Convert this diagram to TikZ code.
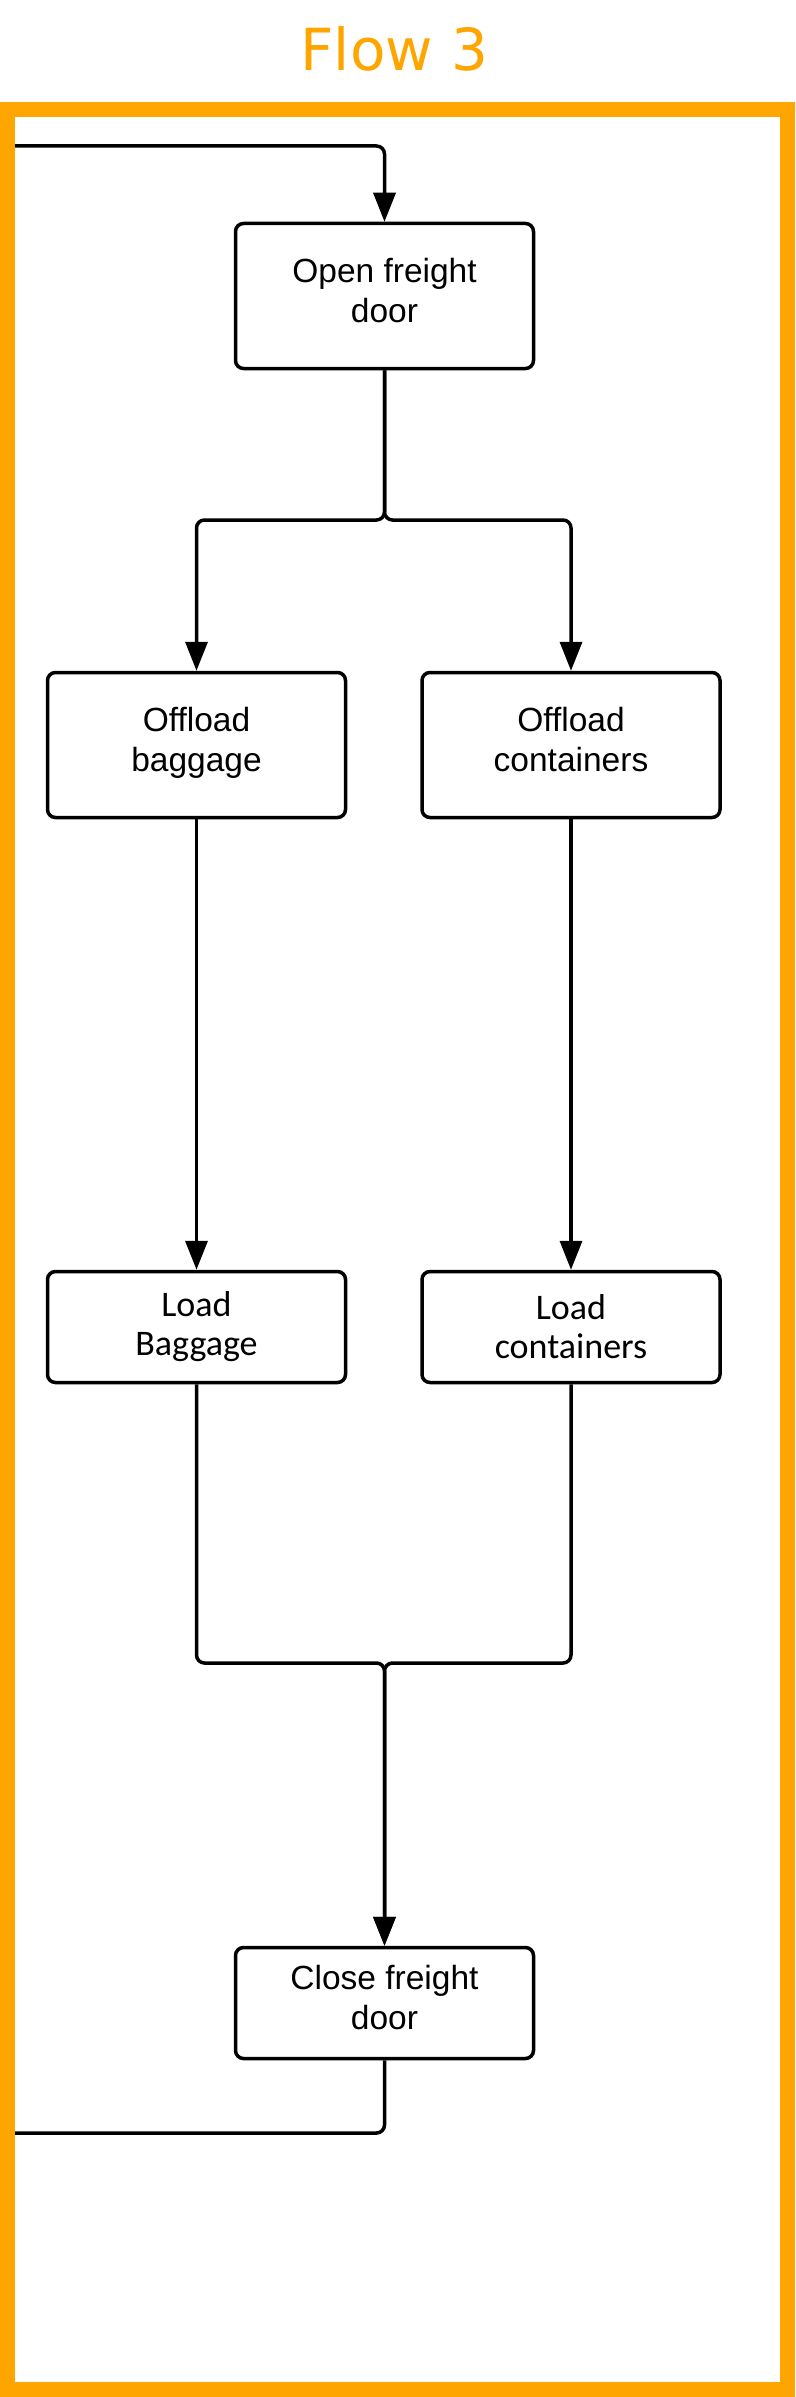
\documentclass[tikz,border=0pt]{standalone}
\usepackage{fontspec}
\setmainfont{Liberation Sans}
\newfontfamily\carlitofont{Carlito}
\newfontfamily\titlefamily{DejaVu Sans}
\usetikzlibrary{arrows.meta}
\definecolor{flowor}{RGB}{255,165,0}

\begin{document}
\begin{tikzpicture}[x=1pt,y=-1pt,
    boxbase/.style={draw,line width=3.5pt,rounded corners=8pt,fill=white,align=center,
      minimum width=298pt,minimum height=145pt,inner sep=0pt},
    task/.style={boxbase,font=\fontsize{33.5}{40}\selectfont,
      execute at end node={\rule[-12pt]{0pt}{12pt}}},
    lowtask/.style={task,minimum height=111pt},
    loadtask/.style={boxbase,minimum height=111pt,font=\carlitofont\fontsize{36}{39}\selectfont},
    flowline/.style={line width=3.5pt,rounded corners=8pt},
    flowarrow/.style={flowline,-{Triangle[length=29pt,width=22pt]}}]
                \useasboundingbox (0,0) rectangle (795,2397);
                
                % Drawing title
                \node [anchor=base,text=flowor,font=\titlefamily\fontsize{58}{70}\selectfont] (title) at (394.5,71) {Flow 3};%
                
                % Drawing boxes
                \node [task] (open) at (384.5,296) {Open freight\\door};%
                \node [task] (offb) at (196.5,745) {Offload\\baggage};%
                \node [task] (offc) at (571,745) {Offload\\containers};%
                \node [loadtask] (ldb) at (196.5,1327) {Load\\Baggage};%
                \node [loadtask] (ldc) at (571,1327) {Load\\containers};%
                \node [lowtask] (close) at (384.5,2003) {Close freight\\door};%
                
                % Marking turning points
                \coordinate (loopin) at (15,146);%
                \coordinate (split) at (384.5,520);%
                \coordinate (join) at (384.5,1663);%
                \coordinate (loopout) at (15,2133);%
                
                % Drawing connectors
                \draw [flowarrow] (loopin) -| (open.north);%
                \draw [flowarrow] (open.south) -- (split) -| (offb.north);%
                \draw [flowarrow] (open.south) -- (split) -| (offc.north);%
                \draw [flowarrow] (offb) -- (ldb);%
                \draw [flowarrow] (offc) -- (ldc);%
                \draw [flowarrow] (ldb.south) |- (join) -- (close.north);%
                \draw [flowarrow] (ldc.south) |- (join) -- (close.north);%
                \draw [flowline] (close.south) |- (loopout);%
                
                % Drawing frame
                \draw [flowor,line width=15pt] (7.5,109.5) rectangle (787.5,2389.5);%
\end{tikzpicture}
\end{document}
